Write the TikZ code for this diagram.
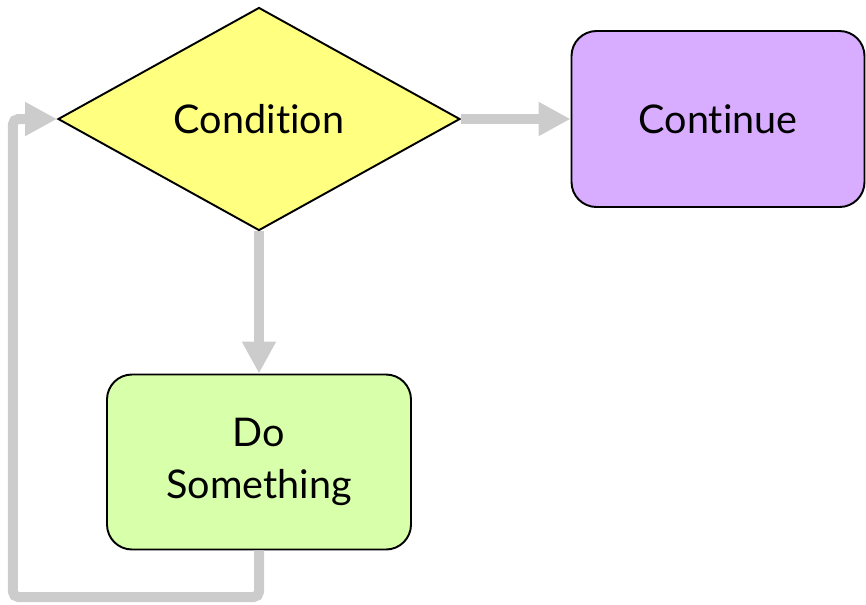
\documentclass[tikz,border=0pt]{standalone}
\usepackage{fontspec}
\setmainfont{Lato}[Ligatures=NoCommon]
\usepackage{xcolor}
\usetikzlibrary{arrows.meta,positioning,shapes.geometric}

\definecolor{condyellow}{HTML}{FFFF80}
\definecolor{contpurple}{HTML}{D8ACFF}
\definecolor{dogreen}{HTML}{D8FFAA}
\definecolor{flowgray}{HTML}{CCCCCC}

\begin{document}
\begin{tikzpicture}[
		every node/.style={font=\fontsize{22.5}{29.5}\selectfont},
		decision/.style={diamond, draw, line width=1.1pt, fill=condyellow, inner sep=0pt, minimum width=8.04cm, minimum height=4.46cm},
		stepbox/.style={rounded corners=0.5cm, draw, line width=1.1pt, align=center, inner sep=0pt},
		flow/.style={draw=flowgray, line width=0.2cm, -{Triangle[length=0.64cm, width=0.64cm]}}
		]
		\useasboundingbox (0,0) rectangle (17.32,-12.08);
		
		\node[decision] (cond) at (5.18,-2.38) {Condition};
		\node[stepbox, fill=contpurple, minimum width=5.86cm, minimum height=3.52cm] (cont) at (14.36,-2.38) {Continue};
		\node[stepbox, fill=dogreen, minimum width=6.08cm, minimum height=3.5cm] (dosth) at (5.18,-9.24) {Do\\Something};
		\coordinate (loopbot) at (0.26,-11.94);
		
		\draw[flow] (cond.east) -- (cont.west);
		\draw[flow] (cond.south) -- (dosth.north);
		\draw[flow, rounded corners=3pt] (dosth.south) |- (loopbot) |- (cond.west);
		
	\end{tikzpicture}
\end{document}
